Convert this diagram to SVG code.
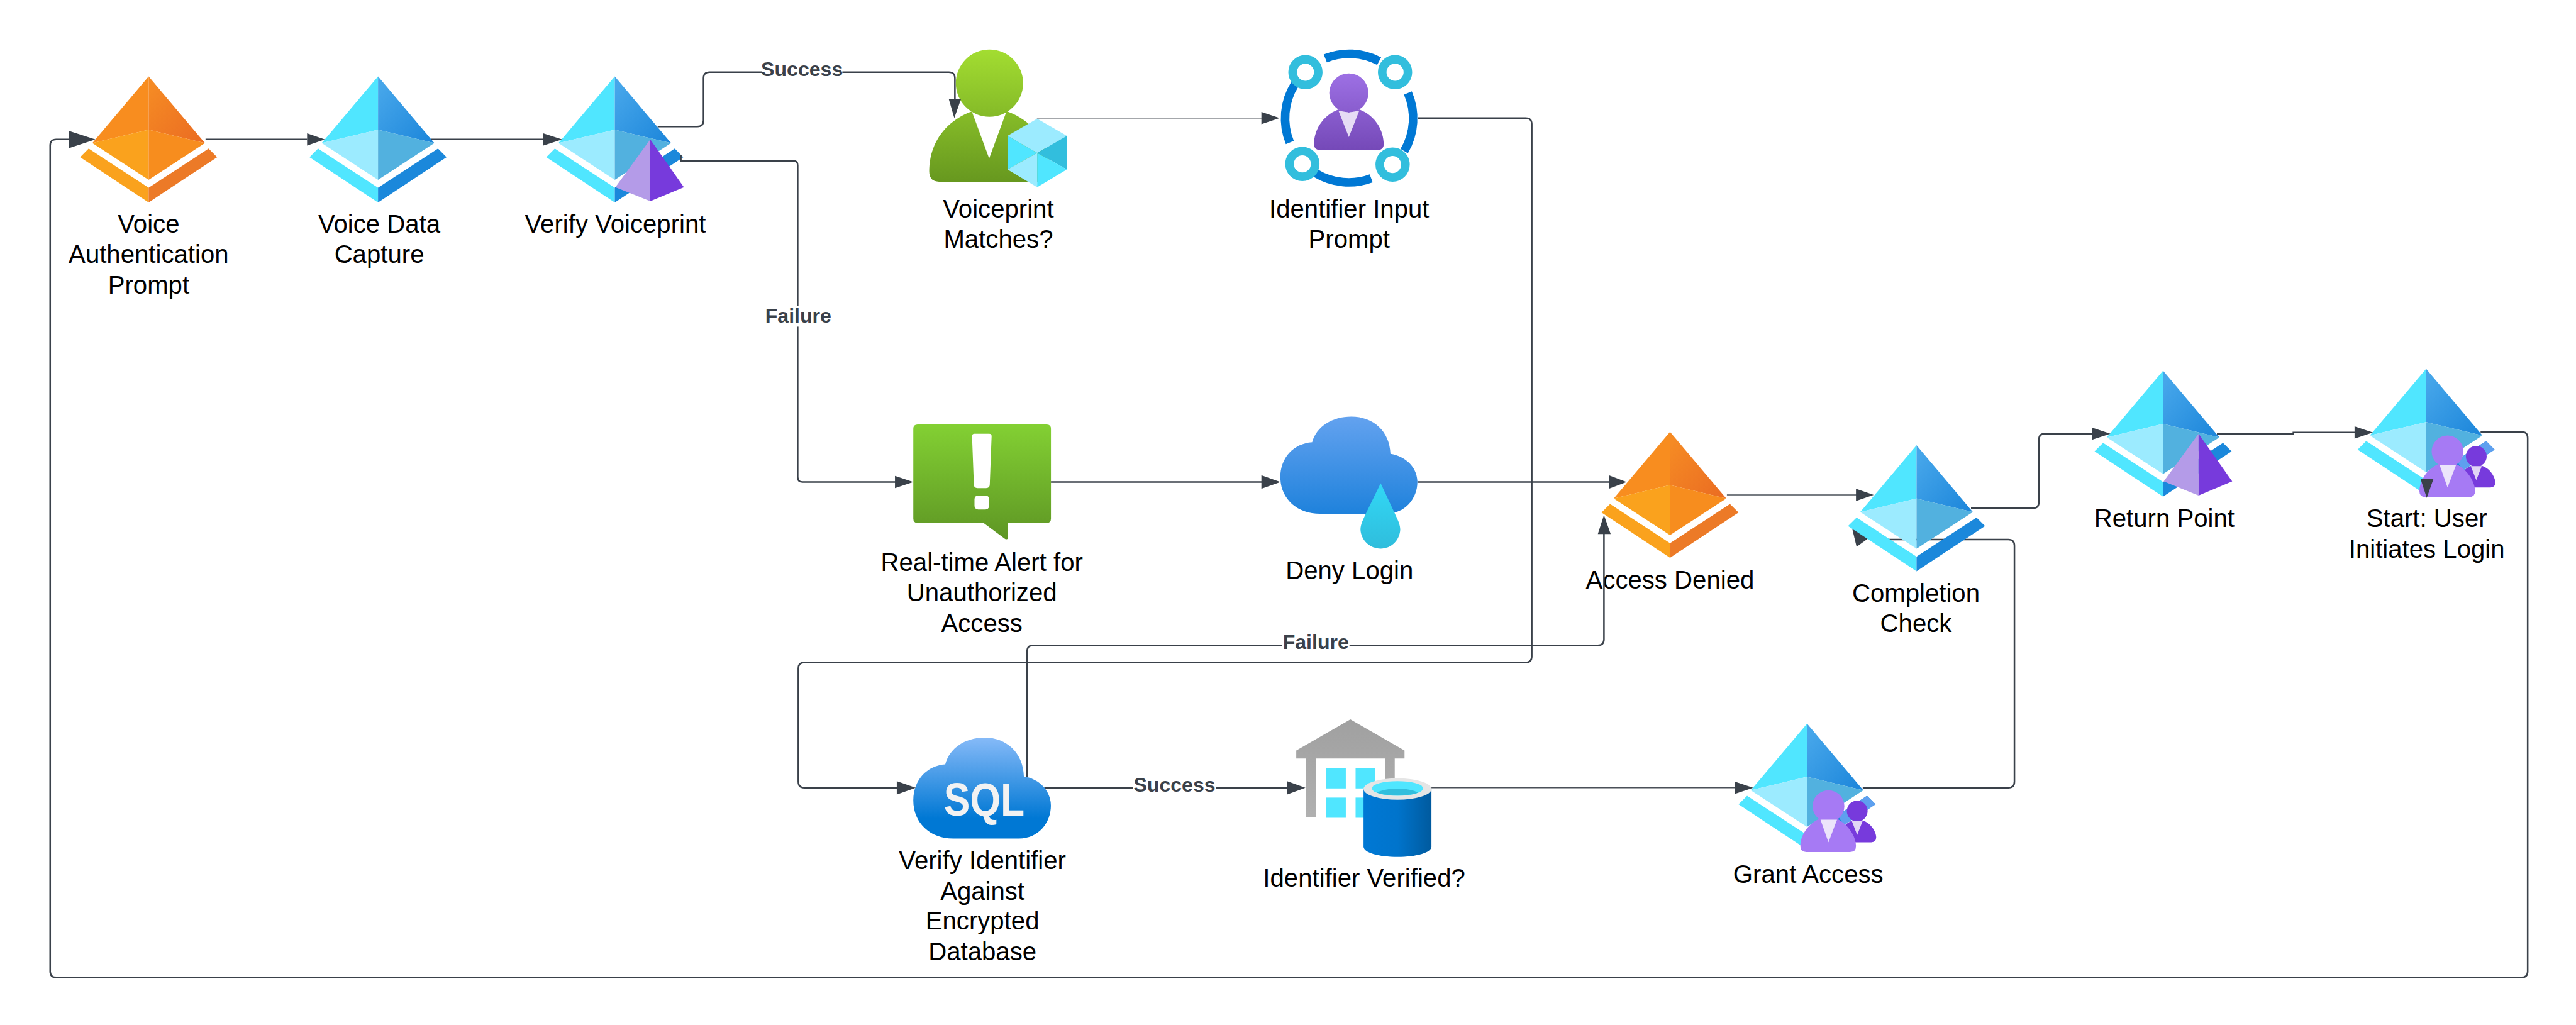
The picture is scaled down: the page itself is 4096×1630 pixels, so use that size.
<svg xmlns="http://www.w3.org/2000/svg" xmlns:xlink="http://www.w3.org/1999/xlink" width="4096" height="1630" viewBox="0 0 4096 1630">
<style>
text{font-family:"Liberation Sans",Arial,sans-serif}
.t{font-size:41.3px;fill:#000;text-anchor:middle}
.l{font-size:33px;font-weight:700;fill:#3a414a;text-anchor:middle}
.c{fill:none;stroke:#3a414a;stroke-width:2.6}
.f{fill:none;stroke:#4a5058;stroke-width:1.5}
.a{fill:#3a414a}
.b{fill:#fff}
</style>
<defs>
<linearGradient id="gBlue" x1="0" y1="0" x2="1" y2="1"><stop offset="0.1" stop-color="#46a6ea"/><stop offset="1" stop-color="#1b85da"/></linearGradient>
<linearGradient id="gOr" x1="0" y1="0" x2="1" y2="1"><stop offset="0.1" stop-color="#f58a24"/><stop offset="1" stop-color="#ea6b22"/></linearGradient>
<linearGradient id="gGreen" x1="0" y1="0" x2="0" y2="1"><stop offset="0" stop-color="#83d033"/><stop offset="1" stop-color="#5e9624"/></linearGradient>
<linearGradient id="gPerson" gradientUnits="userSpaceOnUse" x1="0" y1="81" x2="0" y2="297"><stop offset="0" stop-color="#a3dd31"/><stop offset="1" stop-color="#67981f"/></linearGradient>
<linearGradient id="gRing" gradientUnits="userSpaceOnUse" x1="0" y1="121" x2="0" y2="245"><stop offset="0" stop-color="#9d70e4"/><stop offset="1" stop-color="#7549b8"/></linearGradient>
<linearGradient id="gCloud" x1="0" y1="0" x2="0" y2="1"><stop offset="0" stop-color="#63a2ef"/><stop offset="1" stop-color="#1f82dc"/></linearGradient>
<linearGradient id="gSql" x1="0" y1="0" x2="0" y2="1"><stop offset="0" stop-color="#86baf8"/><stop offset="0.8" stop-color="#0078d4"/></linearGradient>
<linearGradient id="gDrop" x1="0" y1="0" x2="0" y2="1"><stop offset="0" stop-color="#32d8f6"/><stop offset="1" stop-color="#2fbddc"/></linearGradient>
<linearGradient id="gCyl" x1="0" y1="0" x2="1" y2="0"><stop offset="0" stop-color="#0078d4"/><stop offset="0.5" stop-color="#0074cc"/><stop offset="1" stop-color="#005a9e"/></linearGradient>
<linearGradient id="gGrey" x1="0" y1="0" x2="0" y2="1"><stop offset="0" stop-color="#a0a0a0"/><stop offset="1" stop-color="#b0b0b0"/></linearGradient>
<g id="dBlue">
<path fill="#50e6ff" d="M0 0L-92 109L0 87Z"/><path fill="url(#gBlue)" d="M0 0L92 109L0 87Z"/>
<path fill="#9cebff" d="M0 87L-92 109L0 169Z"/><path fill="#52b1df" d="M0 87L92 109L0 169Z"/>
<path fill="#50e6ff" d="M-98 118L0 182V206L-112 132Z"/><path fill="#1b88db" d="M98 118L0 182V206L112 132Z"/>
</g>
<g id="dOrange">
<path fill="#f88d1f" d="M0 0L-92 109L0 87Z"/><path fill="url(#gOr)" d="M0 0L92 109L0 87Z"/>
<path fill="#faa21d" d="M0 87L-92 109L0 169Z"/><path fill="#f78d1e" d="M0 87L92 109L0 169Z"/>
<path fill="#faa21d" d="M-98 118L0 182V206L-112 132Z"/><path fill="#ec7a27" d="M98 118L0 182V206L112 132Z"/>
</g>
<g id="pyr"><path fill="#b49be8" d="M58 103L1 181L58 204Z"/><path fill="#773adc" d="M58 103L113 181L58 204Z"/></g>
<g id="people">
<path fill="#5ea0ef" d="M98 118L112 132L60 166L50 150Z"/>
<path fill="#773adc" d="M60 168C68 160 75 157 82 157C102 157 113 176 113 186Q113 194 105 194H70Z"/>
<circle cx="82" cy="143" r="17" fill="#773adc"/>
<path fill="#e1d5f5" d="M73 159H91L82 182Z"/>
<circle cx="35" cy="135" r="26" fill="#a67af4"/>
<path fill="#a67af4" d="M-11 200C-11 182 3 162 22 155L35 163L48 155C68 165 80 185 80 200Q80 210 70 210H-1Q-11 210 -11 200Z"/>
<path fill="#ece4fb" d="M22 157H49L35 194Z"/>
</g>
<path id="cloud" d="M65 159C27 159 0 134 0 99C0 67 22 44 52 42C59 16 85 0 116 0C152 0 179 24 180 61C206 65 224 84 224 107C224 134 204 159 172 159Z"/>
</defs>
<g transform="scale(0.97269)">
<g id="connectors">
<path class="c" d="M336 228H502"/><path class="c" d="M705 228H888"/>
<path class="c" d="M1075 207H1140Q1150 207 1150 197V128Q1150 118 1160 118H1551Q1561 118 1561 128V165"/>
<path class="f" d="M1695 193H2064"/>
<path class="c" d="M2318 193H2494Q2504 193 2504 203V1073Q2504 1083 2494 1083H1315Q1305 1083 1305 1093V1278Q1305 1288 1315 1288H1468"/>
<path class="c" d="M1718 788H2064"/><path class="c" d="M2317 788H2632"/>
<path class="f" d="M2823 809H3036"/>
<path class="c" d="M3222 831H3323Q3333 831 3333 821V719Q3333 709 3343 709H3422"/>
<path class="c" d="M3624 709H3749V707H3851"/>
<path class="c" d="M4055 706H4122Q4132 706 4132 716V1588Q4132 1598 4122 1598H92Q82 1598 82 1588V238Q82 228 92 228H115"/>
<path class="c" d="M1707 1288H2106"/><path class="f" d="M2340 1288H2838"/>
<path class="c" d="M3045 1288H3283Q3293 1288 3293 1278V892Q3293 882 3283 882H3080"/>
<polygon class="a" points="3028,865 3035,894 3060,876"/>
</g>

<g id="n-prompt"><use xlink:href="#dOrange" href="#dOrange" x="243" y="125"/>
<text class="t" x="243" y="380">Voice</text><text class="t" x="243" y="430">Authentication</text><text class="t" x="243" y="480">Prompt</text></g>
<g id="n-capture"><use href="#dBlue" x="618" y="125"/>
<text class="t" x="620" y="380">Voice Data</text><text class="t" x="620" y="430">Capture</text></g>
<g id="n-verify"><use href="#dBlue" x="1005" y="125"/><use href="#pyr" x="1005" y="125"/>
<text class="t" x="1006" y="380">Verify Voiceprint</text></g>
<g id="n-matches">
<path fill="url(#gPerson)" d="M1519 280C1519 240 1540 200 1589 182L1617 195L1646 182C1695 200 1716 240 1716 280Q1716 297 1700 297H1535Q1519 297 1519 280Z"/>
<path class="b" d="M1589 183H1645L1617 259Z"/>
<circle cx="1617.5" cy="136" r="55" fill="url(#gPerson)"/>
<path fill="#9cebff" d="M1695.5 194L1744 222L1695.5 250L1647 222Z"/>
<path fill="#50e6ff" d="M1647 222L1695.5 250L1647 277Z"/><path fill="#32bedd" d="M1744 222L1695.5 250L1744 277Z"/>
<path fill="#9cebff" d="M1647 277L1695.5 250V306Z"/><path fill="#50e6ff" d="M1744 277L1695.5 250V306Z"/>
<text class="t" x="1632" y="356">Voiceprint</text><text class="t" x="1632" y="405">Matches?</text></g>
<g id="n-input">
<g fill="none" stroke="#0078d4" stroke-width="14">
<path d="M2166.5 95.5A105 105 0 0 1 2254.5 100"/><path d="M2116.5 138A105 105 0 0 0 2108.5 233"/>
<path d="M2150.5 283A105 105 0 0 0 2241.5 291.6"/><path d="M2301.5 152A105 105 0 0 1 2295.5 247"/>
</g>
<g fill="#fff" stroke="#32bedd" stroke-width="14"><circle cx="2134" cy="118" r="21"/><circle cx="2280.5" cy="118" r="21"/><circle cx="2129" cy="268" r="21"/><circle cx="2276.5" cy="269" r="21"/></g>
<path fill="url(#gRing)" d="M2148 236C2148 215 2160 190 2188 179L2205 185L2222 179C2250 190 2262 215 2262 236Q2262 245 2253 245H2157Q2148 245 2148 236Z"/>
<circle cx="2205" cy="152" r="32" fill="url(#gRing)"/>
<path fill="#e6dcf5" d="M2188 181L2205 184L2222 181L2205 224Z"/>
<text class="t" x="2205.5" y="356">Identifier Input</text><text class="t" x="2205.5" y="405">Prompt</text></g>
<g id="n-alert">
<path fill="url(#gGreen)" d="M1500 694H1711Q1718 694 1718 701V848Q1718 855 1711 855H1648V878Q1648 883 1643 881L1608 855H1500Q1493 855 1493 848V701Q1493 694 1500 694Z"/>
<path class="b" d="M1593 709H1617Q1621 709 1621 713L1618 792Q1618 798 1612 798H1598Q1592 798 1592 792L1589 713Q1589 709 1593 709Z"/>
<rect class="b" x="1593" y="810" width="24" height="23" rx="6"/>
<text class="t" x="1605" y="933">Real-time Alert for</text><text class="t" x="1605" y="983">Unauthorized</text><text class="t" x="1605" y="1033">Access</text></g>
<g id="n-deny"><use href="#cloud" x="2093" y="681" fill="url(#gCloud)"/>
<path fill="url(#gDrop)" d="M2257 790L2279 837C2285 850 2289 857 2289 866C2288 884 2274 897 2257 897C2240 897 2225 884 2224 866C2224 857 2228 850 2234 837Z"/>
<text class="t" x="2206" y="947">Deny Login</text></g>
<g id="n-denied"><use href="#dOrange" x="2730" y="706"/><text class="t" x="2730" y="962">Access Denied</text></g>
<g id="n-check"><use href="#dBlue" x="3133" y="728"/><text class="t" x="3132" y="984">Completion</text><text class="t" x="3132" y="1033">Check</text></g>
<g id="n-return"><use href="#dBlue" x="3536" y="606"/><use href="#pyr" x="3536" y="606"/><text class="t" x="3538" y="862">Return Point</text></g>
<g id="n-start"><use href="#dBlue" x="3966" y="603"/><use href="#people" x="3966" y="603"/><text class="t" x="3967" y="862">Start: User</text><text class="t" x="3967" y="912">Initiates Login</text></g>
<g id="n-sql"><g transform="translate(1493 1206) scale(1.004 1.038)"><use href="#cloud" fill="url(#gSql)"/></g>
<text x="1609" y="1333" font-size="76" font-weight="700" fill="#f2f2f2" text-anchor="middle" textLength="132" lengthAdjust="spacingAndGlyphs">SQL</text>
<text class="t" x="1606" y="1421">Verify Identifier</text><text class="t" x="1606" y="1471">Against</text><text class="t" x="1606" y="1520">Encrypted</text><text class="t" x="1606" y="1570">Database</text></g>
<g id="n-verified">
<path fill="url(#gGrey)" d="M2207.5 1176L2296 1227V1240H2280V1336H2264V1240H2151V1336H2135V1240H2119V1227Z"/>
<g fill="#50e6ff"><rect x="2167.5" y="1256" width="32.5" height="33"/><rect x="2216" y="1256" width="32" height="33"/><rect x="2167.5" y="1304" width="32.5" height="33"/><rect x="2216" y="1304" width="32" height="33"/></g>
<path fill="url(#gCyl)" d="M2229 1290V1384C2229 1394 2254 1401 2284.5 1401C2315 1401 2340 1394 2340 1384V1290Z"/>
<ellipse cx="2284.5" cy="1290" rx="55.5" ry="17.5" fill="#e5e5e5"/>
<ellipse cx="2284.5" cy="1289" rx="42" ry="12" fill="#50e6ff"/>
<path fill="#32bedd" d="M2251 1296C2265 1287 2304 1287 2318 1296C2305 1302 2265 1302 2251 1296Z"/>
<text class="t" x="2230" y="1450">Identifier Verified?</text></g>
<g id="n-grant"><use href="#dBlue" x="2954" y="1183"/><use href="#people" x="2954" y="1183"/><text class="t" x="2956" y="1443">Grant Access</text></g>

<g id="connectors-over">
<path class="c" d="M1113 253V263H1297Q1304 263 1304 270V780Q1304 788 1312 788H1465"/>
<path class="c" d="M1679 1270V1065Q1679 1055 1689 1055H2612Q2622 1055 2622 1045V871"/>
<rect class="b" x="1245" y="98" width="132" height="34"/>
<text class="l" x="1311" y="124">Success</text>
<rect class="b" x="1262" y="500" width="86" height="34"/>
<text class="l" x="1305" y="527">Failure</text>
<rect class="b" x="2096" y="1032" width="110" height="36"/>
<text class="l" x="2151" y="1061">Failure</text>
<rect class="b" x="1852" y="1268" width="136" height="34"/>
<text class="l" x="1920" y="1294">Success</text>
<polygon class="a" points="113,214 156,228 113,242"/>
<polygon class="a" points="502,218 531,228 502,238"/>
<polygon class="a" points="888,218 919,228 888,238"/>
<polygon class="a" points="1551,162 1571,162 1560,193"/>
<polygon class="a" points="2062,183 2092,193 2062,203"/>
<polygon class="a" points="1463,778 1493,788 1463,798"/>
<polygon class="a" points="2062,777 2093,788 2062,799"/>
<polygon class="a" points="2630,777 2659,788 2630,799"/>
<polygon class="a" points="2612,873 2622,842 2633,873"/>
<polygon class="a" points="3034,799 3063,809 3034,819"/>
<polygon class="a" points="3420,699 3450,709 3420,719"/>
<polygon class="a" points="3849,697 3879,707 3849,717"/>
<polygon class="a" points="3957,783 3978,783 3967,814"/>
<polygon class="a" points="1466,1277 1497,1288 1466,1299"/>
<polygon class="a" points="2104,1277 2134,1288 2104,1299"/>
<polygon class="a" points="2836,1278 2866,1288 2836,1298"/>
</g>
</g>
</svg>
